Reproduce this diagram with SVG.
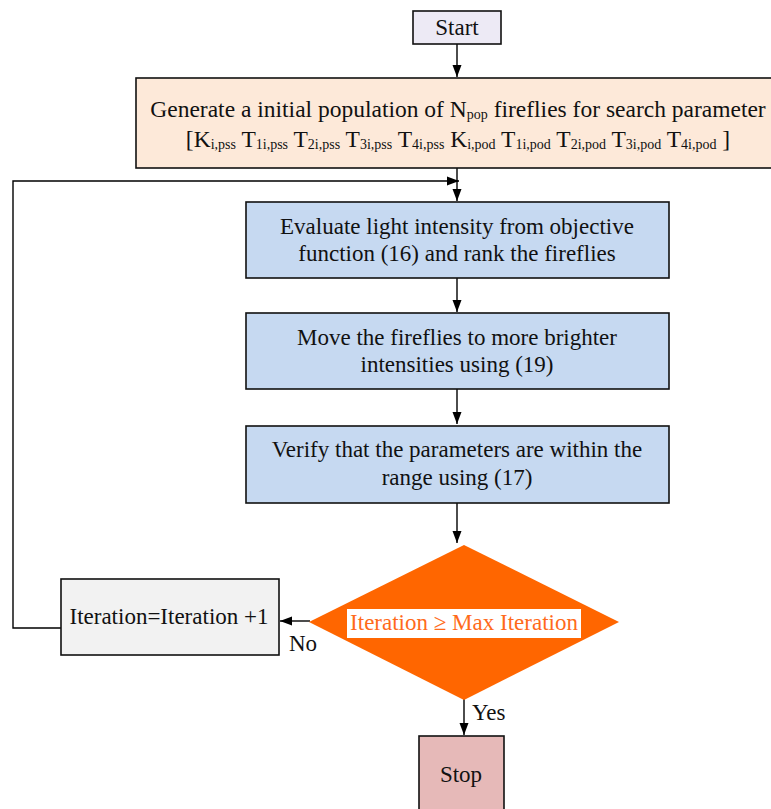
<svg xmlns="http://www.w3.org/2000/svg" width="771" height="809" viewBox="0 0 771 809">
<defs>
<style>
text{font-family:"Liberation Serif","Times New Roman",serif;font-size:23px;fill:#111;}
.c{text-anchor:middle;}
.big{font-size:23.5px;}
.sub{font-size:14px;}
.box{stroke:#111;stroke-width:1.6;}
.conn{fill:none;stroke:#000;stroke-width:1.4;}
</style>
<marker id="ah" viewBox="0 0 12 10" refX="12" refY="5" markerWidth="12" markerHeight="10" markerUnits="userSpaceOnUse" orient="auto">
<path d="M0,0.5 L12,5 L0,9.5 Z" fill="#000"/>
</marker>
</defs>
<rect width="771" height="809" fill="#fff"/>

<g id="connectors">
<line class="conn" x1="457" y1="44" x2="457" y2="77" marker-end="url(#ah)"/>
<line class="conn" x1="457" y1="168" x2="457" y2="201" marker-end="url(#ah)"/>
<polyline class="conn" points="61,628 13,628 13,181 459,181" marker-end="url(#ah)"/>
<line class="conn" x1="457" y1="278" x2="457" y2="312" marker-end="url(#ah)"/>
<line class="conn" x1="457" y1="389" x2="457" y2="424" marker-end="url(#ah)"/>
<line class="conn" x1="457" y1="503" x2="457" y2="543" marker-end="url(#ah)"/>
<line class="conn" x1="310" y1="621" x2="280" y2="621" marker-end="url(#ah)"/>
<line class="conn" x1="464" y1="699" x2="464" y2="735" marker-end="url(#ah)"/>
<text x="289" y="651">No</text>
<text x="472" y="720">Yes</text>
</g>

<g id="start">
<rect class="box" x="413" y="11" width="88" height="33" fill="#edeaf5"/>
<text class="c" x="457" y="35">Start</text>
</g>

<g id="init">
<rect class="box" x="136" y="78" width="645" height="90" fill="#fde9d9"/>
<text class="c big" x="458" y="117">Generate a initial population of N<tspan class="sub" dy="2">pop</tspan><tspan dy="-2"> fireflies for search parameter</tspan></text>
<text class="c big" x="458" y="147">[K<tspan class="sub" dy="2">i,pss</tspan><tspan dy="-2"> T</tspan><tspan class="sub" dy="2">1i,pss</tspan><tspan dy="-2"> T</tspan><tspan class="sub" dy="2">2i,pss</tspan><tspan dy="-2"> T</tspan><tspan class="sub" dy="2">3i,pss</tspan><tspan dy="-2"> T</tspan><tspan class="sub" dy="2">4i,pss</tspan><tspan dy="-2"> K</tspan><tspan class="sub" dy="2">i,pod</tspan><tspan dy="-2"> T</tspan><tspan class="sub" dy="2">1i,pod</tspan><tspan dy="-2"> T</tspan><tspan class="sub" dy="2">2i,pod</tspan><tspan dy="-2"> T</tspan><tspan class="sub" dy="2">3i,pod</tspan><tspan dy="-2"> T</tspan><tspan class="sub" dy="2">4i,pod</tspan><tspan dy="-2"> ]</tspan></text>
</g>

<g id="evaluate">
<rect class="box" x="246" y="202" width="423" height="76" fill="#c6d9f1"/>
<text class="c" x="457" y="234">Evaluate light intensity from objective</text>
<text class="c" x="457" y="261">function (16) and rank the fireflies</text>
</g>

<g id="move">
<rect class="box" x="246" y="313" width="423" height="76" fill="#c6d9f1"/>
<text class="c" x="457" y="345">Move the fireflies to more brighter</text>
<text class="c" x="457" y="372">intensities using (19)</text>
</g>

<g id="verify">
<rect class="box" x="246" y="426" width="423" height="77" fill="#c6d9f1"/>
<text class="c" x="457" y="457">Verify that the parameters are within the</text>
<text class="c" x="457" y="485">range using (17)</text>
</g>

<g id="decision">
<polygon points="464,545 619,622 464,700 309,622" fill="#ff6600"/>
<rect x="347" y="609" width="234" height="29" fill="#fff"/>
<text class="c" x="464" y="630" style="fill:#ff6a1a">Iteration ≥ Max Iteration</text>
</g>

<g id="increment">
<rect class="box" x="61" y="579" width="218" height="76" fill="#f2f2f2"/>
<text class="c" x="169" y="624">Iteration=Iteration +1</text>
</g>

<g id="stop">
<rect class="box" x="419" y="736" width="85" height="80" fill="#e6b9b8"/>
<text class="c" x="461" y="782">Stop</text>
</g>
</svg>
